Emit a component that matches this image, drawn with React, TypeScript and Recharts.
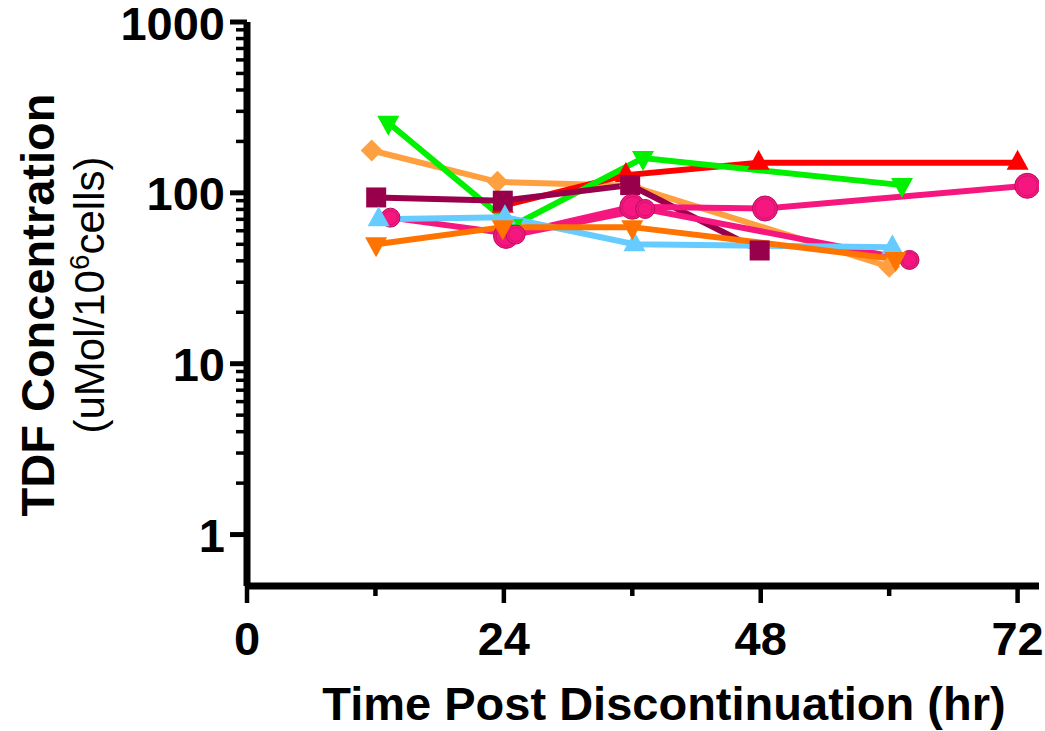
import React from 'react';
import { LineChart, Line, XAxis, YAxis, Label } from 'recharts';

// hours after discontinuation / TDF concentration (uMol/10^6 cells), one pair per subject
const redHours = [23.9, 35.4, 47.8, 72.0];
const redConc = [84, 127, 150, 150];

const greenHours = [13.2, 24.8, 37.0, 61.2];
const greenConc = [257, 64, 160, 111];

const peachHours = [11.65, 23.4, 35.8, 60.0];
const peachConc = [177, 116, 110, 37];

const maroonHours = [12.07, 23.9, 35.8, 47.9];
const maroonConc = [94, 90, 111, 46];

const pinkAHours = [24.2, 36.0, 48.4, 72.9];
const pinkAConc = [56, 83, 81, 110];

const pinkBHours = [13.4, 25.1, 37.2, 61.9];
const pinkBConc = [71.6, 57, 80.5, 40.5];

const blueHours = [12.3, 24.1, 36.2, 60.3];
const blueConc = [70, 72, 50, 48];

const orangeHours = [12.06, 23.9, 36.0, 60.6];
const orangeConc = [50, 63, 63, 41];

const xTicks = [0, 12, 24, 36, 48, 60, 72];
const xLabeled = [0, 24, 48, 72];
const yTicks = [
  1, 2, 3, 4, 5, 6, 7, 8, 9,
  10, 20, 30, 40, 50, 60, 70, 80, 90,
  100, 200, 300, 400, 500, 600, 700, 800, 900,
  1000,
];
const yLabeled = [1, 10, 100, 1000];

const FONT = '"Liberation Sans", Arial, Helvetica, sans-serif';

const toRows = (hours: number[], conc: number[]) =>
  hours.map((t, i) => ({ t, v: conc[i] }));

type Shape = 'up' | 'down' | 'square' | 'diamond' | 'circle' | 'bigcircle';

const makeDot = (shape: Shape, color: string) => (props: any) => {
  const { cx, cy, index } = props;
  if (cx == null || cy == null) return <g key={index} />;
  const k = `${shape}-${index}`;
  if (shape === 'up') {
    return <polygon key={k} points={`${cx},${cy - 13} ${cx + 11},${cy + 7} ${cx - 11},${cy + 7}`} fill={color} />;
  }
  if (shape === 'down') {
    return <polygon key={k} points={`${cx},${cy + 13} ${cx + 11},${cy - 7} ${cx - 11},${cy - 7}`} fill={color} />;
  }
  if (shape === 'square') {
    return <rect key={k} x={cx - 10} y={cy - 10} width={20} height={20} fill={color} />;
  }
  if (shape === 'diamond') {
    return <polygon key={k} points={`${cx},${cy - 11} ${cx + 11},${cy} ${cx},${cy + 11} ${cx - 11},${cy}`} fill={color} />;
  }
  const r = shape === 'bigcircle' ? 12.5 : 9.5;
  return (
    <g key={k}>
      <circle cx={cx} cy={cy} r={r} fill={color} stroke="#b80a5c" strokeWidth={1} />
      <circle cx={cx} cy={cy} r={r - 2.5} fill="none" stroke="#c8106a" strokeWidth={0.8} />
    </g>
  );
};

const YTick = (props: any) => {
  const { x, y, payload } = props;
  const major = yLabeled.includes(payload.value);
  return (
    <g>
      <line x1={x - (major ? 17 : 11)} x2={x} y1={y} y2={y} stroke="#000" strokeWidth={major ? 5 : 3.5} />
      {major && (
        <text x={x - 22} y={y + 1} textAnchor="end" dominantBaseline="central"
          fontFamily={FONT} fontWeight="bold" fontSize={47} fill="#000">
          {payload.value}
        </text>
      )}
    </g>
  );
};

const XTick = (props: any) => {
  const { x, y, payload } = props;
  const major = xLabeled.includes(payload.value);
  return (
    <g>
      <line x1={x} x2={x} y1={y} y2={y + (major ? 17 : 10)} stroke="#000" strokeWidth={4.5} />
      {major && (
        <text x={x} y={y + 52} textAnchor="middle" dominantBaseline="central"
          fontFamily={FONT} fontWeight="bold" fontSize={47} fill="#000">
          {payload.value}
        </text>
      )}
    </g>
  );
};

const XTitle = () => (
  <text x={664} y={720} textAnchor="middle" fontFamily={FONT} fontWeight="bold" fontSize={47} fill="#000">
    Time Post Discontinuation (hr)
  </text>
);

const YTitle = () => (
  <g>
    <text x={54} y={305} transform="rotate(-90 54 305)" textAnchor="middle"
      fontFamily={FONT} fontWeight="bold" fontSize={47} fill="#000">
      TDF Concentration
    </text>
    <text x={104} y={295} transform="rotate(-90 104 295)" textAnchor="middle"
      fontFamily={FONT} fontSize={42} fill="#000">
      (uMol/10<tspan dy={-15} fontSize={28}>6</tspan><tspan dy={15}>cells)</tspan>
    </text>
  </g>
);

const series = [
  { name: 'peach', hours: peachHours, conc: peachConc, color: '#ffa040', shape: 'diamond' as Shape },
  { name: 'red', hours: redHours, conc: redConc, color: '#ff0000', shape: 'up' as Shape },
  { name: 'green', hours: greenHours, conc: greenConc, color: '#00f000', shape: 'down' as Shape },
  { name: 'maroon', hours: maroonHours, conc: maroonConc, color: '#99004c', shape: 'square' as Shape },
  { name: 'pinkA', hours: pinkAHours, conc: pinkAConc, color: '#f5177f', shape: 'bigcircle' as Shape },
  { name: 'pinkB', hours: pinkBHours, conc: pinkBConc, color: '#f5177f', shape: 'circle' as Shape },
  { name: 'blue', hours: blueHours, conc: blueConc, color: '#66ccff', shape: 'up' as Shape },
  { name: 'orange', hours: orangeHours, conc: orangeConc, color: '#ff7300', shape: 'down' as Shape },
];

export default function App() {
  return (
    <div style={{ position: 'absolute', left: 0, top: 0, background: '#fff' }}>
      <LineChart width={1045} height={731} margin={{ top: 22, right: 6, bottom: 0, left: 0 }}>
        <XAxis
          dataKey="t"
          type="number"
          domain={[0, 74]}
          ticks={xTicks}
          interval={0}
          allowDataOverflow
          height={145}
          tickSize={0}
          tickMargin={0}
          tickLine={false}
          axisLine={{ stroke: '#000', strokeWidth: 7 }}
          tick={<XTick />}
        >
          <Label content={<XTitle />} />
        </XAxis>
        <YAxis
          type="number"
          scale="log"
          domain={[0.5, 1000]}
          ticks={yTicks}
          interval={0}
          allowDataOverflow
          width={247}
          tickSize={0}
          tickMargin={0}
          tickLine={false}
          axisLine={{ stroke: '#000', strokeWidth: 7 }}
          tick={<YTick />}
        >
          <Label content={<YTitle />} />
        </YAxis>
        {series.map((s) => (
          <Line
            key={s.name}
            data={toRows(s.hours, s.conc)}
            dataKey="v"
            type="linear"
            stroke={s.color}
            strokeWidth={6}
            dot={makeDot(s.shape, s.color)}
            activeDot={false}
            isAnimationActive={false}
          />
        ))}
      </LineChart>
    </div>
  );
}
